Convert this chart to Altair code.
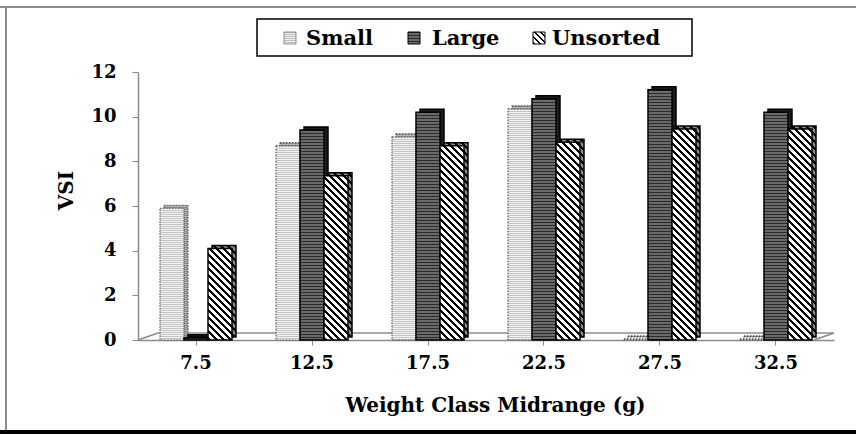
import altair as alt
import pandas as pd

# Weight classes (g) and the three sorting groups
weights = ["7.5", "12.5", "17.5", "22.5", "27.5", "32.5"]
series = ["Small", "Large", "Unsorted"]

# VSI per weight class
small = [5.9, 8.7, 9.1, 10.35, 0.05, 0.05]
large = [0.1, 9.4, 10.2, 10.8, 11.2, 10.2]
unsorted = [4.1, 7.35, 8.7, 8.85, 9.45, 9.45]

y_ticks = [0, 2, 4, 6, 8, 10, 12]

FONT = "DejaVu Serif"
W, H = 696, 268
Y_MAX = 12
GROUP_W = 72  # band of one weight class
BAR_W = GROUP_W / 3
DEPTH_X, DEPTH_Y = 4, 3  # depth of the 3-D columns

rows = []
for s, vals in zip(series, [small, large, unsorted]):
    for w, v in zip(weights, vals):
        rows.append({"weight": w, "series": s, "vsi": v})
df = pd.DataFrame(rows)


def hatch(w, h, period=7.0, dark=3.0, ink="#000000", paper="#ffffff"):
    """Diagonal '\\' stripes as a linear gradient over the mark's bounding box."""
    span = w + h
    k = span / (w * w + h * h)
    stops = []
    s = 0.0
    while s < span:
        a = s / span
        b = min((s + dark) / span, 1.0)
        c = min((s + period) / span, 1.0)
        stops += [
            {"offset": a, "color": ink},
            {"offset": b, "color": ink},
            {"offset": b, "color": paper},
            {"offset": c, "color": paper},
        ]
        s += period
    return {"gradient": "linear", "x1": 0, "y1": 1, "x2": k * w, "y2": 1 - k * h,
            "stops": stops}


def bands(h, c1, c2, period, d1):
    """Fine horizontal texture as a vertical gradient."""
    h = max(h, 1.0)
    stops = []
    s = 0.0
    while s < h:
        a = s / h
        b = min((s + d1) / h, 1.0)
        c = min((s + period) / h, 1.0)
        stops += [
            {"offset": a, "color": c1},
            {"offset": b, "color": c1},
            {"offset": b, "color": c2},
            {"offset": c, "color": c2},
        ]
        s += period
    return {"gradient": "linear", "x1": 0, "y1": 0, "x2": 0, "y2": 1, "stops": stops}


def front_fill(s, px_h):
    if s == "Small":
        return bands(px_h, "#c4c4c4", "#f2f2f2", 2.0, 1.0)
    if s == "Large":
        return bands(px_h, "#2b2b2b", "#6a6a6a", 3.0, 1.0)
    return hatch(BAR_W, max(px_h, 1.0))


def back_fill(s, px_h):
    if s == "Small":
        return bands(px_h, "#8a8a8a", "#b5b5b5", 2.0, 1.0)
    if s == "Large":
        return "#1c1c1c"
    return hatch(BAR_W, max(px_h, 1.0), ink="#000000", paper="#8a8a8a")


x_enc = alt.X(
    "weight:N",
    scale=alt.Scale(domain=weights, paddingInner=0.3793, paddingOuter=0.1897),
    axis=alt.Axis(
        title="Weight Class Midrange (g)", labelAngle=0, domainColor="#8c8c8c",
        domainWidth=1.5, tickColor="#8c8c8c", tickSize=5, labelPadding=9,
        labelFont=FONT, labelFontSize=18, labelFontWeight="bold", labelColor="#000",
        titleFont=FONT, titleFontSize=20, titleFontWeight="bold", titleColor="#000",
        titleX=357, titleY=71, titleBaseline="alphabetic", titleAlign="center",
    ),
)


def xo_enc(shift):
    return alt.XOffset(
        "series:N",
        scale=alt.Scale(domain=series, range=[shift, GROUP_W + shift],
                        paddingInner=0, paddingOuter=0),
    )


y_enc = alt.Y(
    "vsi:Q",
    scale=alt.Scale(domain=[0, Y_MAX], nice=False),
    axis=alt.Axis(
        title="VSI", values=y_ticks, grid=False, domainColor="#8c8c8c", domainWidth=1.5,
        tickColor="#8c8c8c", tickSize=6, labelPadding=16,
        labelFont=FONT, labelFontSize=18, labelFontWeight="bold", labelColor="#000",
        titleFont=FONT, titleFontSize=20, titleFontWeight="bold", titleColor="#000",
        titleAngle=270, titleX=-72, titleY=118, titleAlign="center",
        titleBaseline="middle",
    ),
)


def bar(r, fill, style, shift=0, **offsets):
    return (
        alt.Chart(df)
        .transform_filter(
            f"datum.series == '{r['series']}' && datum.weight == '{r['weight']}'"
        )
        .mark_bar(fill=fill, **style, **offsets)
        .encode(x=x_enc, xOffset=xo_enc(shift), y=y_enc)
    )


# depth faces first (shifted up-right), then the front faces in series order
backs, fronts = [], []
for r in rows:
    px_h = r["vsi"] / Y_MAX * H
    if r["series"] == "Small":
        style = {"stroke": "#555555", "strokeWidth": 1.2, "strokeDash": [1.5, 1.5]}
    else:
        style = {"stroke": "#000000", "strokeWidth": 1.5}
    backs.append(
        bar(r, back_fill(r["series"], px_h), style, shift=DEPTH_X,
            yOffset=-DEPTH_Y, y2Offset=-DEPTH_Y)
    )
    fronts.append(bar(r, front_fill(r["series"], px_h), style))

one = pd.DataFrame({"k": [0]})
GRAY = "#8c8c8c"


def rule(x, y, x2, y2, color=GRAY, width=1.5):
    return alt.Chart(one).mark_rule(color=color, strokeWidth=width).encode(
        x=alt.value(x), y=alt.value(y), x2=alt.value(x2), y2=alt.value(y2)
    )


# outer frame and the floor under the bars
decor = [
    rule(-138, -65, 718, -65, GRAY, 2),
    rule(-132, -65, -132, 360, GRAY, 2),
    rule(-138, 360, 718, 360, "#000000", 4),
    rule(0, 268, 20, 261),
    rule(20, 261, 696, 261),
    rule(676, 268, 696, 261),
]

# legend box
legend = [
    alt.Chart(one).mark_rect(fill="#ffffff", stroke="#000000", strokeWidth=1.5).encode(
        x=alt.value(119), x2=alt.value(554), y=alt.value(-53), y2=alt.value(-16)
    )
]
icon_x = [146, 270, 395]
text_x = [168, 294, 414]
for s, ix, tx in zip(series, icon_x, text_x):
    if s == "Small":
        f = bands(12, "#bdbdbd", "#f0f0f0", 2.0, 1.0)
        st = {"stroke": "#777777", "strokeWidth": 0.8}
    elif s == "Large":
        f = bands(12, "#2b2b2b", "#6a6a6a", 3.0, 1.0)
        st = {"stroke": "#000000", "strokeWidth": 1}
    else:
        f = hatch(12, 12, period=6.0, dark=2.0)
        st = {"stroke": "#000000", "strokeWidth": 1}
    legend.append(
        alt.Chart(one).mark_rect(fill=f, **st).encode(
            x=alt.value(ix), x2=alt.value(ix + 12), y=alt.value(-40), y2=alt.value(-28)
        )
    )
    legend.append(
        alt.Chart(one).mark_text(
            text=s, font=FONT, fontSize=21, fontWeight="bold", color="#000000",
            align="left", baseline="alphabetic",
        ).encode(x=alt.value(tx), y=alt.value(-27))
    )

chart = (
    alt.layer(*decor, *backs, *fronts, *legend)
    .resolve_scale(xOffset="independent")
    .properties(
        width=W, height=H,
        autosize=alt.AutoSizeParams(type="none"),
        padding={"left": 138, "top": 72, "right": 22, "bottom": 94},
        background="#ffffff",
    )
    .configure_view(stroke=None)
)

chart.save("out.html", embed_options={"renderer": "svg", "actions": False})
